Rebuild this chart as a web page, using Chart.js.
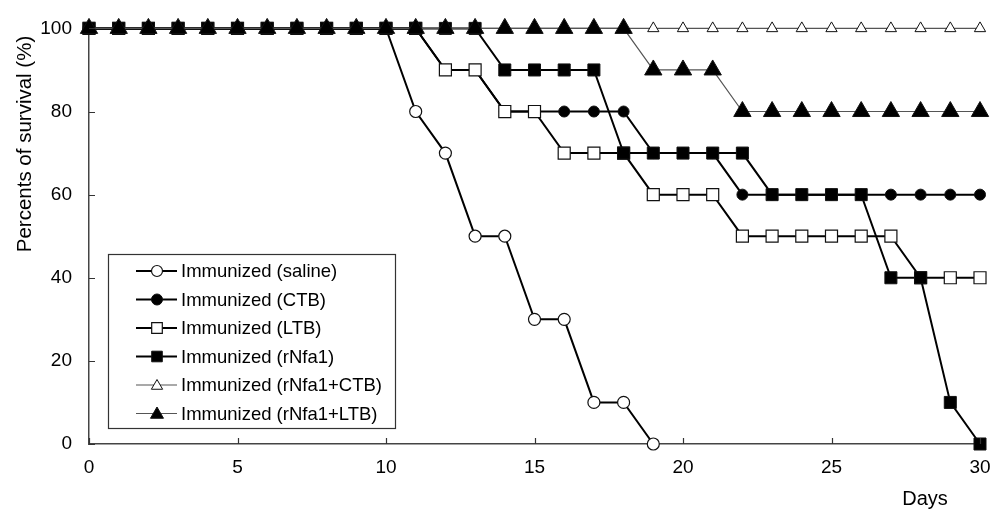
<!DOCTYPE html>
<html>
<head>
<meta charset="utf-8">
<script src="https://cdn.jsdelivr.net/npm/chart.js@4/dist/chart.umd.min.js"></script>
<style>
html,body{margin:0;padding:0;background:#fff;}
#wrap{width:1005px;height:510px;position:relative;}
</style>
</head>
<body>
<div id="wrap"><canvas id="c" width="1005" height="510"></canvas></div>
<script>
// ---- data ----
const days = [0,1,2,3,4,5,6,7,8,9,10,11,12,13,14,15,16,17,18,19,20,21,22,23,24,25,26,27,28,29,30];
const seriesNames = [
  'Immunized (saline)',
  'Immunized (CTB)',
  'Immunized (LTB)',
  'Immunized (rNfa1)',
  'Immunized (rNfa1+CTB)',
  'Immunized (rNfa1+LTB)'
];
const saline   = [100,100,100,100,100,100,100,100,100,100,100,80,70,50,50,30,30,10,10,0,null,null,null,null,null,null,null,null,null,null,null];
const ctb      = [100,100,100,100,100,100,100,100,100,100,100,100,90,90,80,80,80,80,80,70,70,70,60,60,60,60,60,60,60,60,60];
const ltb      = [100,100,100,100,100,100,100,100,100,100,100,100,90,90,80,80,70,70,70,60,60,60,50,50,50,50,50,50,40,40,40];
const rnfa1    = [100,100,100,100,100,100,100,100,100,100,100,100,100,100,90,90,90,90,70,70,70,70,70,60,60,60,60,40,40,10,0];
const rnfa1Ctb = [100,100,100,100,100,100,100,100,100,100,100,100,100,100,100,100,100,100,100,100,100,100,100,100,100,100,100,100,100,100,100];
const rnfa1Ltb = [100,100,100,100,100,100,100,100,100,100,100,100,100,100,100,100,100,100,100,90,90,90,80,80,80,80,80,80,80,80,80];
const yTicks = [0,20,40,60,80,100];
const xTicks = [0,5,10,15,20,25,30];
const yTitle = 'Percents of survival (%)';
const xTitle = 'Days';

const FONT = '"Liberation Sans", Arial, sans-serif';
const toXY = arr => days.map((d,i)=>({x:d, y:arr[i]}));

const styles = [
  {pointStyle:'circle',   radius:6,   fill:'#ffffff', line:'#000', lw:2,   pb:1.2, legR:5.5},
  {pointStyle:'circle',   radius:5.5, fill:'#000000', line:'#000', lw:2,   pb:1,   legR:5.5},
  {pointStyle:'rect',     radius:8.5, fill:'#ffffff', line:'#000', lw:2,   pb:1.2, legR:7.5},
  {pointStyle:'rect',     radius:8.5, fill:'#000000', line:'#000', lw:2,   pb:1,   legR:7.5},
  {pointStyle:'triangle', radius:6.5, fill:'#ffffff', line:'#555', lw:1.2, pb:1,   legR:6.5},
  {pointStyle:'triangle', radius:10,  fill:'#000000', line:'#555', lw:1.2, pb:1,   legR:7.5}
];
const values = [saline, ctb, ltb, rnfa1, rnfa1Ctb, rnfa1Ltb];

const datasets = values.map((v,i)=>({
  label: seriesNames[i],
  data: toXY(v),
  borderColor: styles[i].line,
  borderWidth: styles[i].lw,
  pointStyle: styles[i].pointStyle,
  pointRadius: styles[i].radius,
  pointHoverRadius: styles[i].radius,
  pointBackgroundColor: styles[i].fill,
  pointBorderColor: '#111',
  pointBorderWidth: styles[i].pb,
  tension: 0,
  clip: false,
  order: values.length - i,
  fill: false
}));

const decor = {
  id: 'decor',
  afterDraw(chart) {
    const ctx = chart.ctx;
    const xs = chart.scales.x, ys = chart.scales.y;
    const ca = chart.chartArea;
    ctx.save();
    // inward tick marks
    ctx.strokeStyle = '#333';
    ctx.lineWidth = 1.2;
    ctx.beginPath();
    yTicks.forEach(t=>{
      const py = Math.round(ys.getPixelForValue(t)) + 0.5;
      ctx.moveTo(ca.left, py); ctx.lineTo(ca.left + 6, py);
    });
    xTicks.forEach(t=>{
      const px = Math.round(xs.getPixelForValue(t)) + 0.5;
      ctx.moveTo(px, ca.bottom); ctx.lineTo(px, ca.bottom - 6);
    });
    ctx.stroke();
    // axis titles
    ctx.fillStyle = '#000';
    ctx.font = '20.5px ' + FONT;
    ctx.textAlign = 'center';
    ctx.textBaseline = 'middle';
    ctx.save();
    ctx.translate(25, 144);
    ctx.rotate(-Math.PI/2);
    ctx.fillText(yTitle, 0, 0);
    ctx.restore();
    ctx.font = '20px ' + FONT;
    ctx.fillText(xTitle, 925, 499);
    // legend
    const bx = 108.5, by = 254.5, bw = 287, bh = 174;
    ctx.fillStyle = '#fff';
    ctx.fillRect(bx, by, bw, bh);
    ctx.strokeStyle = '#333';
    ctx.lineWidth = 1.2;
    ctx.strokeRect(bx, by, bw, bh);
    ctx.font = '18.5px ' + FONT;
    ctx.textAlign = 'left';
    ctx.textBaseline = 'middle';
    chart.data.datasets.forEach((ds,i)=>{
      const y = 271 + i*28.5;
      ctx.strokeStyle = ds.borderColor;
      ctx.lineWidth = ds.borderWidth;
      ctx.beginPath();
      ctx.moveTo(136, y); ctx.lineTo(177, y);
      ctx.stroke();
      ctx.fillStyle = ds.pointBackgroundColor;
      ctx.strokeStyle = ds.pointBorderColor;
      ctx.lineWidth = ds.pointBorderWidth;
      Chart.helpers.drawPoint(ctx, {pointStyle: ds.pointStyle, radius: styles[i].legR, rotation: 0, borderWidth: ds.pointBorderWidth}, 157, y + (ds.pointStyle==='triangle'?1:0));
      ctx.fillStyle = '#000';
      ctx.fillText(ds.label, 181, y + 1);
    });
    ctx.restore();
  }
};

new Chart(document.getElementById('c'), {
  type: 'line',
  data: { datasets },
  options: {
    responsive: false,
    animation: false,
    events: [],
    layout: { padding: { top: 22, right: 25, left: 0, bottom: 0 } },
    plugins: { legend: { display: false }, tooltip: { enabled: false } },
    scales: {
      x: {
        type: 'linear', min: 0, max: 30,
        afterBuildTicks: s => { s.ticks = xTicks.map(v=>({value:v})); },
        afterFit: s => { s.height = 66; },
        grid: { display: false, drawTicks: false },
        border: { display: true, color: '#444', width: 1.5 },
        ticks: { color: '#000', font: { family: FONT, size: 19 }, padding: 12, maxRotation: 0 }
      },
      y: {
        type: 'linear', min: 0, max: 100,
        afterBuildTicks: s => { s.ticks = yTicks.map(v=>({value:v})); },
        afterFit: s => { s.width = 89; },
        grid: { display: false, drawTicks: false },
        border: { display: true, color: '#444', width: 1.5 },
        ticks: { color: '#000', font: { family: FONT, size: 19 }, padding: 17 }
      }
    }
  },
  plugins: [decor]
});
</script>
</body>
</html>
